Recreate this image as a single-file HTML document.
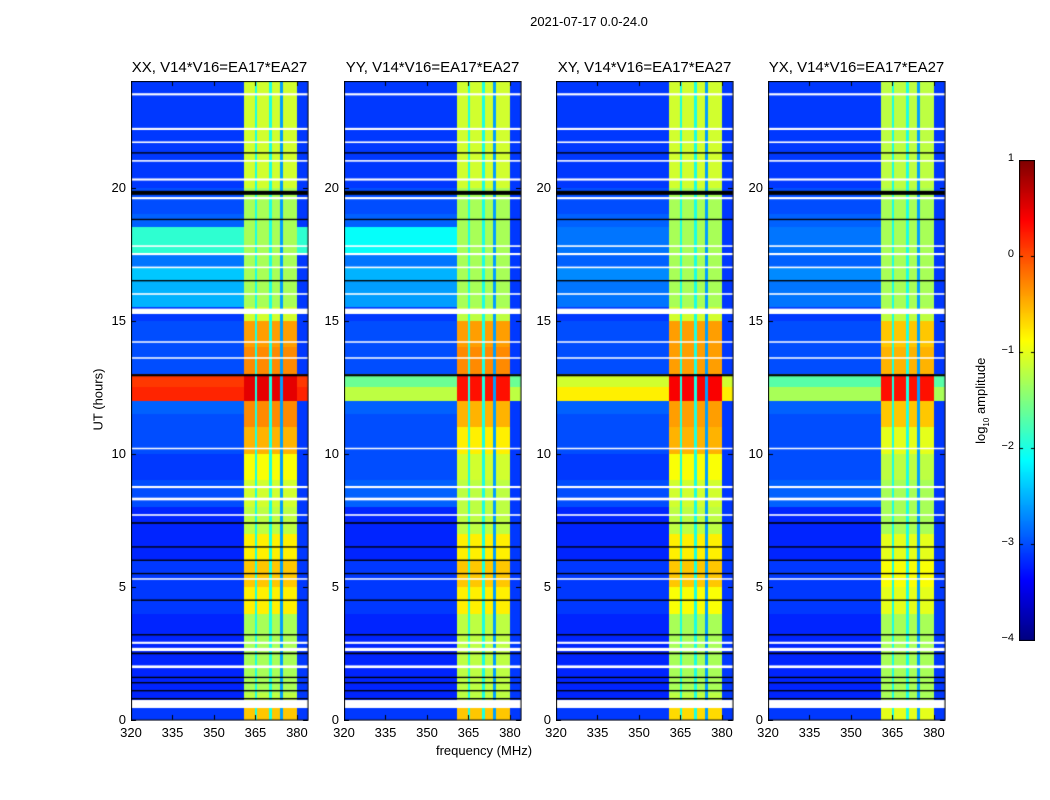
<!DOCTYPE html>
<html><head><meta charset="utf-8">
<style>
body{margin:0;background:#fff;}
#root{position:relative;width:1050px;height:800px;background:#fff;font-family:"Liberation Sans",sans-serif;color:#000;overflow:hidden;}
.t{position:absolute;white-space:nowrap;}
canvas{position:absolute;}
</style></head>
<body>
<div id="root">
<div class="t" style="left:489px;top:14px;width:200px;text-align:center;font-size:13px;">2021-07-17 0.0-24.0</div>
<div class="t" style="left:48px;top:392px;width:100px;text-align:center;font-size:13px;transform:rotate(-90deg);">UT (hours)</div>
<div class="t" style="left:384px;top:743px;width:200px;text-align:center;font-size:13px;">frequency (MHz)</div>
<div class="t" style="left:922px;top:392px;width:120px;text-align:center;font-size:13px;transform:rotate(-90deg);">log<sub style="font-size:8px">10</sub> amplitude</div>
<canvas id="cb" width="16" height="481" style="left:1019px;top:160px;"></canvas>
</div>
<script>
// ---- data ----
const panelTitles = ["XX, V14*V16=EA17*EA27","YY, V14*V16=EA17*EA27","XY, V14*V16=EA17*EA27","YX, V14*V16=EA17*EA27"];
const yTicks = [0,5,10,15,20];
const xTicks = [320,335,350,365,380];
const cbTicks = [1,0,-1,-2,-3,-4];
// band levels per half-hour bin (48 bins, 0..24h)
const bandXX = [-0.6,-1.2,-1.3,-1.3,-1.3,-1.3,-1.3,-1.3,-0.8,-0.8,-0.6,-0.6,-0.8,-0.8,-1.2,-1.2,-1.1,-1.1,-0.9,-0.9,-0.5,-0.5,-0.3,-0.3,0.5,0.5,-0.3,-0.3,-0.4,-0.4,-1.1,-1.3,-1.3,-1.3,-1.3,-1.3,-1.3,-1.3,-1.3,-1.3,-1.1,-1.1,-1.1,-1.1,-1.1,-1.1,-1.1,-1.1];
const bandYY = [-0.6,-1.2,-1.2,-1.2,-1.2,-1.2,-1.2,-1.2,-0.8,-0.8,-0.6,-0.6,-0.8,-0.8,-1.2,-1.2,-1.2,-1.2,-1.1,-1.1,-0.8,-0.8,-0.5,-0.5,0.3,0.3,-0.3,-0.3,-0.4,-0.4,-1.2,-1.3,-1.3,-1.3,-1.3,-1.3,-1.3,-1.3,-1.3,-1.3,-1.1,-1.1,-1.1,-1.1,-1.1,-1.1,-1.1,-1.1];
const bandXY = [-0.7,-1.2,-1.3,-1.3,-1.3,-1.3,-1.3,-1.3,-0.9,-0.9,-0.6,-0.6,-0.8,-0.8,-1.2,-1.2,-1.1,-1.1,-0.9,-0.9,-0.5,-0.5,-0.4,-0.4,0.4,0.4,-0.4,-0.4,-0.4,-0.4,-1.1,-1.3,-1.3,-1.3,-1.3,-1.3,-1.3,-1.3,-1.3,-1.3,-1.1,-1.1,-1.1,-1.1,-1.1,-1.1,-1.1,-1.1];
const bandYX = [-1.0,-1.3,-1.3,-1.3,-1.3,-1.3,-1.3,-1.3,-1.0,-1.0,-0.9,-0.9,-1.0,-1.0,-1.3,-1.3,-1.3,-1.3,-1.2,-1.2,-1.0,-1.0,-0.6,-0.6,0.3,0.3,-0.5,-0.5,-0.6,-0.6,-1.2,-1.3,-1.3,-1.3,-1.3,-1.3,-1.3,-1.3,-1.3,-1.3,-1.2,-1.2,-1.2,-1.2,-1.2,-1.2,-1.2,-1.2];
// background levels per half-hour bin
const bgXX = [-3.1,-3.2,-3.2,-3.2,-3.2,-3.2,-3.2,-3.2,-3.1,-3.1,-3.1,-3.1,-3.2,-3.2,-3.2,-3.2,-3.0,-3.0,-3.1,-3.1,-3.0,-3.0,-3.0,-2.9,0.2,0.1,-3.0,-3.0,-3.0,-3.0,-3.1,-2.5,-2.5,-2.4,-2.8,-1.9,-1.9,-2.9,-3.0,-3.0,-3.1,-3.1,-3.1,-3.1,-3.1,-3.1,-3.1,-3.1];
const bgYY = [-3.1,-3.2,-3.2,-3.2,-3.2,-3.2,-3.2,-3.2,-3.1,-3.1,-3.1,-3.1,-3.2,-3.2,-3.2,-3.2,-2.9,-2.9,-3.0,-3.0,-3.0,-3.0,-3.0,-2.9,-1.2,-1.6,-3.0,-3.0,-3.0,-3.0,-3.1,-2.6,-2.6,-2.5,-2.8,-2.1,-2.1,-2.9,-3.0,-3.0,-3.1,-3.1,-3.1,-3.1,-3.1,-3.1,-3.1,-3.1];
const bgXY = [-3.1,-3.2,-3.2,-3.2,-3.2,-3.2,-3.2,-3.2,-3.1,-3.1,-3.1,-3.1,-3.2,-3.2,-3.2,-3.2,-3.0,-3.0,-3.1,-3.1,-3.0,-3.0,-3.0,-2.9,-0.8,-1.1,-3.0,-3.0,-3.0,-3.0,-3.1,-2.8,-2.8,-2.7,-2.9,-2.8,-2.8,-2.9,-3.0,-3.0,-3.1,-3.1,-3.1,-3.1,-3.1,-3.1,-3.1,-3.1];
const bgYX = [-3.1,-3.2,-3.2,-3.2,-3.2,-3.2,-3.2,-3.2,-3.1,-3.1,-3.1,-3.1,-3.2,-3.2,-3.2,-3.2,-2.9,-2.9,-3.0,-3.0,-3.0,-3.0,-3.0,-2.9,-1.3,-1.7,-3.0,-3.0,-3.0,-3.0,-3.1,-2.8,-2.8,-2.7,-2.9,-2.8,-2.8,-2.9,-3.0,-3.0,-3.1,-3.1,-3.1,-3.1,-3.1,-3.1,-3.1,-3.1];
const bandLevels = [bandXX,bandYY,bandXY,bandYX];
const bgLevels = [bgXX,bgYY,bgXY,bgYX];
// flagged (blank) times in hours and widths, black (zero) lines
const whiteTimes = [0.6,2.0,2.65,2.9,5.3,7.7,8.3,8.75,10.2,13.6,14.2,15.35,16.0,17.0,17.5,17.8,19.6,20.3,21.0,21.7,22.2,23.5];
const whiteWidths = [0.3,0.1,0.12,0.08,0.05,0.06,0.1,0.08,0.05,0.05,0.05,0.2,0.06,0.06,0.08,0.06,0.08,0.08,0.06,0.06,0.08,0.08];
const blackTimes = [0.8,1.1,1.4,1.6,2.5,3.2,4.5,5.5,6.0,6.5,7.4,12.95,16.5,18.8,19.8,21.3];
const blackWidths = [0.05,0.05,0.05,0.05,0.06,0.05,0.05,0.05,0.05,0.05,0.06,0.08,0.05,0.05,0.15,0.05];
const bandRange = [360.5,379.8];
const stripeFreqs = [365.0,370.2,374.2];
const stripeLevels = [-2.0,-2.0,-2.6];

// ---- geometry ----
const panelLefts = [131,344,556,768];
const PW = 177, PT = 81, PB = 720;
const FMIN = 320, FMAX = 384, TMAX = 24;
function xScale(f){return (f-FMIN)/(FMAX-FMIN)*PW;}
function yScale(t){return (PB-PT) - t/TMAX*(PB-PT);}
function jet(v){ // v in [-4,1]
  let x=(v+4)/5; x=Math.max(0,Math.min(1,x));
  const r=Math.max(0,Math.min(1,1.5-Math.abs(4*x-3)));
  const g=Math.max(0,Math.min(1,1.5-Math.abs(4*x-2)));
  const b=Math.max(0,Math.min(1,1.5-Math.abs(4*x-1)));
  return [Math.round(r*255),Math.round(g*255),Math.round(b*255)];
}
const root=document.getElementById('root');
function addText(txt,l,t,w,align,fs,name){
  const d=document.createElement('div');d.className='t';
  
  
  d.style.left=l+'px';d.style.top=t+'px';d.style.width=w+'px';d.style.textAlign=align;d.style.fontSize=fs+'px';
  d.textContent=txt;root.appendChild(d);
}
for(let p=0;p<4;p++){
  const L=panelLefts[p];
  const c=document.createElement('canvas');
  
  
  c.width=PW+1;c.height=PB-PT+1;c.style.left=L+'px';c.style.top=PT+'px';
  root.appendChild(c);
  const ctx=c.getContext('2d');
  const H=PB-PT;
  const img=ctx.createImageData(PW,H);
  const bx0=xScale(bandRange[0]),bx1=xScale(bandRange[1]);
  for(let y=0;y<H;y++){
    const t=(H-y-0.5)/H*TMAX;
    const bin=Math.min(47,Math.floor(t*2));
    for(let x=0;x<PW;x++){
      let v;
      if(x>=bx0&&x<bx1){
        v=bandLevels[p][bin];
        for(let s=0;s<stripeFreqs.length;s++){
          const sx=xScale(stripeFreqs[s]);
          if(Math.abs(x-sx)<1.2) v=Math.min(v,stripeLevels[s]);
        }
      } else {
        v=bgLevels[p][bin];
        if(x>=bx1 && v<-2) v=-3.1;
      }
      const col=jet(v);const i=(y*PW+x)*4;
      img.data[i]=col[0];img.data[i+1]=col[1];img.data[i+2]=col[2];img.data[i+3]=255;
    }
  }
  ctx.putImageData(img,0,0);
  ctx.fillStyle='#fff';
  whiteTimes.forEach((t,i)=>{const y0=yScale(t+whiteWidths[i]/2);const y1=yScale(t-whiteWidths[i]/2);ctx.fillRect(0,y0,PW,Math.max(1.5,y1-y0));});
  ctx.fillStyle='#000';
  blackTimes.forEach((t,i)=>{const y0=yScale(t+blackWidths[i]/2);const y1=yScale(t-blackWidths[i]/2);ctx.fillRect(0,y0,PW,Math.max(1,y1-y0));});
  ctx.strokeStyle='#000';ctx.lineWidth=1;
  ctx.strokeRect(0.5,0.5,PW-0.5,H-0.5);
  ctx.beginPath();
  yTicks.forEach(t=>{const y=Math.round(yScale(t))+0.5;ctx.moveTo(0,y);ctx.lineTo(5,y);ctx.moveTo(PW-5,y);ctx.lineTo(PW,y);});
  xTicks.forEach(f=>{const x=Math.round(xScale(f))+0.5;ctx.moveTo(x,H);ctx.lineTo(x,H-5);ctx.moveTo(x,0);ctx.lineTo(x,5);});
  ctx.stroke();
  addText(panelTitles[p],L-40,59,PW+80,'center',15,'panel-title');
  yTicks.forEach(t=>addText(String(t),L-40,PT+yScale(t)-8,35,'right',13,'y-tick-label'));
  xTicks.forEach(f=>addText(String(f),L+xScale(f)-20,725,40,'center',13,'x-tick-label'));
}
// colorbar
const cb=document.getElementById('cb');const cctx=cb.getContext('2d');
for(let y=0;y<481;y++){const v=1-y/480*5;const c=jet(v);cctx.fillStyle=`rgb(${c[0]},${c[1]},${c[2]})`;cctx.fillRect(0,y,16,1);}
cctx.strokeStyle='#000';cctx.strokeRect(0.5,0.5,15,480);
cctx.beginPath();
cbTicks.forEach(v=>{const y=Math.round((1-v)/5*480)+0.5;cctx.moveTo(0,y);cctx.lineTo(4,y);cctx.moveTo(12,y);cctx.lineTo(16,y);});
cctx.stroke();
cbTicks.forEach(v=>addText(v<0?'\u2212'+Math.abs(v):String(v),975,160+(1-v)/5*480-8,39,'right',11,'colorbar-tick-label'));
</script>
</body></html>
